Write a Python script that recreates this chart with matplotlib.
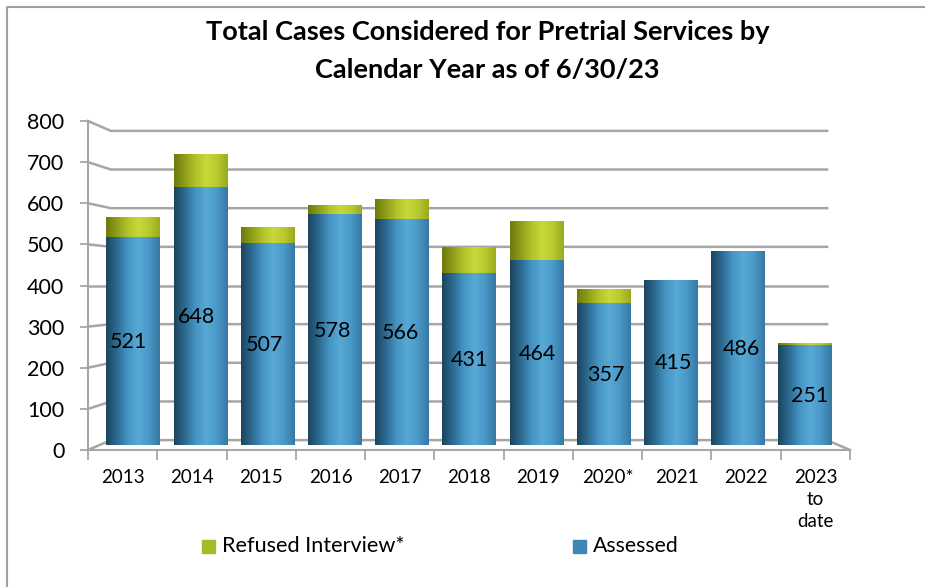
import numpy as np
import matplotlib
matplotlib.use("Agg")
import matplotlib.pyplot as plt
from matplotlib.colors import LinearSegmentedColormap
from matplotlib.patches import Rectangle
from matplotlib.lines import Line2D

plt.rcParams['font.family'] = ['Lato', 'DejaVu Sans']

years = ['2013', '2014', '2015', '2016', '2017', '2018', '2019', '2020*', '2021', '2022', '2023\nto\ndate']
assessed = [521, 648, 507, 578, 566, 431, 464, 357, 415, 486, 251]
refused = [50, 82, 40, 25, 52, 66, 98, 34, 0, 0, 4]
yticks = [0, 100, 200, 300, 400, 500, 600, 700, 800]

W, H = 925, 587
fig = plt.figure(figsize=(W / 100, H / 100), dpi=100)


def frac(x0, y0, x1, y1):
    # pixel box -> figure fraction [left, bottom, width, height]
    return [x0 / W, 1 - y1 / H, (x1 - x0) / W, (y1 - y0) / H]


# front plane (axis with tick labels)
ax = fig.add_axes(frac(88, 121, 850, 450))
ax.set_xlim(-0.5, 10.5)
ax.set_ylim(0, 800)
ax.patch.set_alpha(0)
for s in ['top', 'right']:
    ax.spines[s].set_visible(False)
grid_c = '#a6a6a6'
ax.spines['left'].set_color(grid_c)
ax.spines['bottom'].set_color(grid_c)
ax.spines['left'].set_linewidth(1.5)
ax.spines['bottom'].set_linewidth(1.5)
ax.set_yticks(yticks)
ax.set_yticklabels([str(v) for v in yticks], fontsize=15.5)
ax.tick_params(axis='y', length=6, width=1.3, color=grid_c, pad=11)
ax.set_xticks(np.arange(len(years)))
ax.set_xticklabels(years, fontsize=13.5, va='top', linespacing=1.35)
ax.tick_params(axis='x', which='major', length=0, pad=14)
ax.set_xticks(np.arange(-0.5, len(years)), minor=True)
ax.tick_params(axis='x', which='minor', length=7, width=1.3, color=grid_c)

# back wall with perspective about the centre of the plot
cx, cy, sb = 5.0, 400.0, 0.94
xl = cx + sb * (-0.5 - cx)
xr = cx + sb * (10.5 - cx)
for v in yticks:
    yb = cy + sb * (v - cy)
    ax.plot([-0.5, xl, xr], [v, yb, yb], color=grid_c, lw=1.8, clip_on=False, zorder=1)
y0b = cy + sb * (0 - cy)
ax.plot([xr, 10.5], [y0b, 0], color=grid_c, lw=1.8, clip_on=False, zorder=1)

# bars sit on the middle plane
sm = 0.97
bx0 = 469 + sm * (88 - 469)
bx1 = 469 + sm * (850 - 469)
by0 = 285 + sm * (450 - 285)
by1 = 285 + sm * (121 - 285)
axb = fig.add_axes(frac(bx0, by1, bx1, by0))
axb.set_xlim(-0.5, 10.5)
axb.set_ylim(0, 800)
axb.axis('off')

blue_cmap = LinearSegmentedColormap.from_list('b', ['#1c4560', '#2d6b91', '#4594c3', '#58a9d6', '#4a99c8', '#3878a3'])
green_cmap = LinearSegmentedColormap.from_list('g', ['#6e7a0c', '#8f9e19', '#b1c22b', '#c8d83a', '#b9ca30', '#9aab1f'])
grad = np.linspace(0, 1, 64).reshape(1, -1)

x = np.arange(len(years))
bw = 0.79
b1 = axb.bar(x, assessed, width=bw, color='#4594c3', linewidth=0, zorder=2)
b2 = axb.bar(x, refused, width=bw, bottom=assessed, color='#b1c22b', linewidth=0, zorder=2)
for bars, cmap in [(b1, blue_cmap), (b2, green_cmap)]:
    for r in bars:
        if r.get_height() <= 0:
            continue
        bx, by = r.get_x(), r.get_y()
        im = axb.imshow(grad, cmap=cmap, aspect='auto', zorder=3,
                        extent=[bx, bx + r.get_width(), by, by + r.get_height()])
        im.set_clip_path(r)
axb.set_xlim(-0.5, 10.5)
axb.set_ylim(0, 800)

for i, v in enumerate(assessed):
    axb.text(cx + 1.015 * (i - cx), v / 2 - 3, str(v), ha='center', va='center',
             fontsize=15.5, color='black', zorder=5)

# title
fig.text(0.527, 1 - 32 / H, 'Total Cases Considered for Pretrial Services by',
         ha='center', va='center', fontsize=19.5, fontweight='bold')
fig.text(0.527, 1 - 70 / H, 'Calendar Year as of 6/30/23',
         ha='center', va='center', fontsize=19.5, fontweight='bold')

# legend
fig.patches.append(Rectangle((202 / W, 1 - 553 / H), 13 / W, 13 / H,
                             transform=fig.transFigure, color='#a8b928'))
fig.text(222 / W, 1 - 546 / H, 'Refused Interview*', ha='left', va='center', fontsize=15.6)
fig.patches.append(Rectangle((573 / W, 1 - 553 / H), 13 / W, 13 / H,
                             transform=fig.transFigure, color='#3f87b3'))
fig.text(593 / W, 1 - 546 / H, 'Assessed', ha='left', va='center', fontsize=15.3)

# chart border (top and left visible)
fig.lines.append(Line2D([7 / W, 7 / W, 1], [0, 1 - 7 / H, 1 - 7 / H],
                        transform=fig.transFigure, color='#a0a0a0', lw=1.5))

fig.savefig('out.png', dpi=100)
